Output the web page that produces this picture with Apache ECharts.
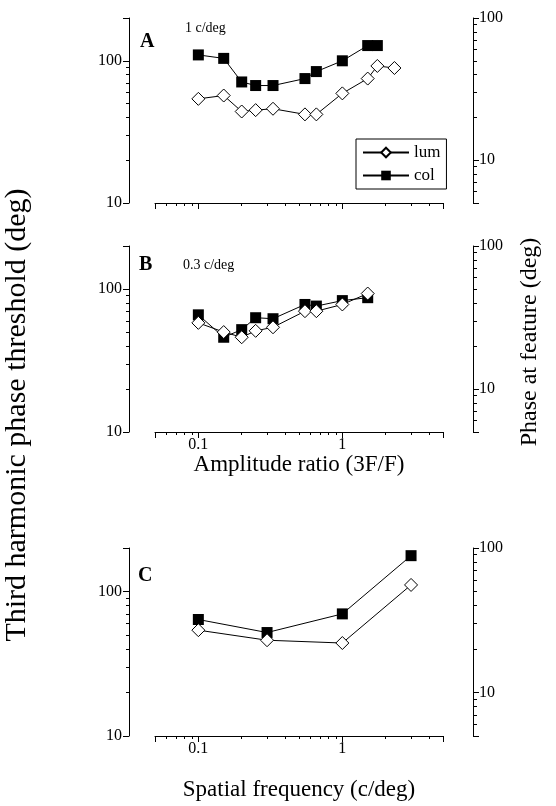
<!DOCTYPE html>
<html lang="en">
<head>
<meta charset="UTF-8">
<title>Third harmonic phase threshold</title>
<script src="https://cdn.jsdelivr.net/npm/echarts@6/dist/echarts.min.js"></script>
<style>
  html, body { margin: 0; padding: 0; background: #fff; }
  #chart { width: 556px; height: 806px; }
</style>
</head>
<body>
<div id="chart"></div>
<script>
// panel A: 1 c/deg, threshold vs amplitude ratio
var ratioA_col = [0.1, 0.15, 0.2, 0.25, 0.33, 0.55, 0.66, 1, 1.5, 1.75];
var colA = [110, 104, 71, 67, 67, 75, 84, 100, 128, 128];
var ratioA_lum = [0.1, 0.15, 0.2, 0.25, 0.33, 0.55, 0.66, 1, 1.5, 1.75, 2.3];
var lumA = [54, 57, 44, 45, 46, 42, 42, 59, 75, 92, 89];

// panel B: 0.3 c/deg
var ratioB = [0.1, 0.15, 0.2, 0.25, 0.33, 0.55, 0.66, 1, 1.5];
var colB = [66, 46, 52, 63, 62, 78, 76, 83, 87];
var lumB = [58, 50, 46, 51, 54, 70, 70, 78, 93];

// panel C: threshold vs spatial frequency
var freqC = [0.1, 0.3, 1, 3];
var colC = [64, 52, 70, 177];
var lumC = [54, 46, 44, 111];

// ticks
var xMajor = [0.05, 0.1, 1, 5];
var xMinor = [0.06, 0.07, 0.08, 0.09, 0.2, 0.3, 0.4, 0.5, 0.6, 0.7, 0.8, 0.9, 2, 3, 4];
var xLabels = [0.1, 1];
var leftMajor = [10, 100, 200];
var leftMinor = [20, 30, 40, 50, 60, 70, 80, 90];
var leftLabels = [10, 100];
var rightMajor = [5, 10, 100];
var rightMinor = [6, 7, 8, 9, 20, 30, 40, 50, 60, 70, 80, 90];
var rightLabels = [10, 100];

var serif = "'Liberation Serif', 'Times New Roman', serif";
var chart = echarts.init(document.getElementById('chart'));

function pairs(xs, ys) {
    return xs.map(function (x, i) { return [x, ys[i]]; });
}

var grids = [
    { left: 155, width: 288, top: 18, height: 185 },
    { left: 155, width: 288, top: 246, height: 186 },
    { left: 155, width: 288, top: 548, height: 188 }
];
var xNames = ['', 'Amplitude ratio (3F/F)', ''];
var xNameGaps = [0, 21, 0];

var xAxes = [];
var yAxes = [];
grids.forEach(function (g, i) {
    xAxes.push({
        gridIndex: i, type: 'log', logBase: 10, min: 0.05, max: 5, position: 'bottom',
        name: xNames[i], nameLocation: 'middle', nameGap: xNameGaps[i], nameMoveOverlap: false,
        nameTextStyle: { fontFamily: serif, fontSize: 23, color: '#000' },
        axisLine: { lineStyle: { color: '#000', width: 1 } },
        axisTick: { length: 6, customValues: xMajor, lineStyle: { color: '#000' } },
        axisLabel: { show: i > 0, customValues: xLabels, margin: 5,
            fontFamily: serif, fontSize: 16, color: '#000' },
        splitLine: { show: false }
    });
    xAxes.push({
        gridIndex: i, type: 'log', logBase: 10, min: 0.05, max: 5, position: 'bottom',
        axisLine: { show: false },
        axisTick: { length: 3, customValues: xMinor, lineStyle: { color: '#000' } },
        axisLabel: { show: false },
        splitLine: { show: false }
    });
    yAxes.push({
        gridIndex: i, type: 'log', logBase: 10, min: 10, max: 200, position: 'left', offset: 26,
        axisLine: { show: true, lineStyle: { color: '#000', width: 1 } },
        axisTick: { show: true, length: 6, customValues: leftMajor, lineStyle: { color: '#000' } },
        axisLabel: { customValues: leftLabels, margin: 7, fontFamily: serif, fontSize: 16, color: '#000' },
        splitLine: { show: false }
    });
    yAxes.push({
        gridIndex: i, type: 'log', logBase: 10, min: 10, max: 200, position: 'left', offset: 26,
        axisLine: { show: false },
        axisTick: { show: true, length: 3, customValues: leftMinor, lineStyle: { color: '#000' } },
        axisLabel: { show: false },
        splitLine: { show: false }
    });
    yAxes.push({
        gridIndex: i, type: 'log', logBase: 10, min: 5, max: 100, position: 'right', offset: 30,
        axisLine: { show: true, lineStyle: { color: '#000', width: 1 } },
        axisTick: { show: true, length: 6, customValues: rightMajor, lineStyle: { color: '#000' } },
        axisLabel: { customValues: rightLabels, margin: 6, fontFamily: serif, fontSize: 16, color: '#000' },
        splitLine: { show: false }
    });
    yAxes.push({
        gridIndex: i, type: 'log', logBase: 10, min: 5, max: 100, position: 'right', offset: 30,
        axisLine: { show: false },
        axisTick: { show: true, length: 4, customValues: rightMinor, lineStyle: { color: '#000' } },
        axisLabel: { show: false },
        splitLine: { show: false }
    });
});

function colSeries(i, data) {
    return {
        name: 'col', type: 'line', xAxisIndex: 2 * i, yAxisIndex: 4 * i, data: data,
        symbol: 'rect', symbolSize: 11, showAllSymbol: true,
        itemStyle: { color: '#000' },
        lineStyle: { color: '#000', width: 1 }
    };
}
function lumSeries(i, data) {
    return {
        name: 'lum', type: 'line', xAxisIndex: 2 * i, yAxisIndex: 4 * i, data: data,
        symbol: 'diamond', symbolSize: 13, showAllSymbol: true,
        itemStyle: { color: '#fff', borderColor: '#000', borderWidth: 1 },
        lineStyle: { color: '#000', width: 1 }
    };
}

function txt(x, y, s, size, bold, rot, align) {
    return {
        type: 'text', x: x, y: y, rotation: rot || 0,
        style: {
            text: s, fontFamily: serif, fontSize: size, fontWeight: bold ? 'bold' : 'normal',
            fill: '#000', align: align || (rot ? 'center' : 'left'), verticalAlign: 'middle'
        }
    };
}

var option = {
    animation: false,
    backgroundColor: '#fff',
    textStyle: { fontFamily: serif },
    grid: grids,
    xAxis: xAxes,
    yAxis: yAxes,
    legend: {
        data: ['lum', 'col'], orient: 'vertical', left: 356, top: 139,
        padding: [5, 6, 5, 6], itemGap: 6, itemWidth: 46, itemHeight: 12,
        borderColor: '#000', borderWidth: 1, borderRadius: 0,
        textStyle: { fontFamily: serif, fontSize: 17, color: '#000' }
    },
    graphic: [
        txt(140, 42, 'A', 20, true),
        txt(185, 28, '1 c/deg', 14),
        txt(139, 265, 'B', 20, true),
        txt(183, 265, '0.3 c/deg', 14),
        txt(138, 576, 'C', 20, true),
        txt(299, 790, 'Spatial frequency (c/deg)', 23, false, 0, 'center'),
        txt(17, 415, 'Third harmonic phase threshold (deg)', 30, false, Math.PI / 2),
        txt(530, 342, 'Phase at feature (deg)', 24, false, Math.PI / 2)
    ],
    series: [
        colSeries(0, pairs(ratioA_col, colA)),
        lumSeries(0, pairs(ratioA_lum, lumA)),
        colSeries(1, pairs(ratioB, colB)),
        lumSeries(1, pairs(ratioB, lumB)),
        colSeries(2, pairs(freqC, colC)),
        lumSeries(2, pairs(freqC, lumC))
    ]
};

chart.setOption(option);
</script>
</body>
</html>
